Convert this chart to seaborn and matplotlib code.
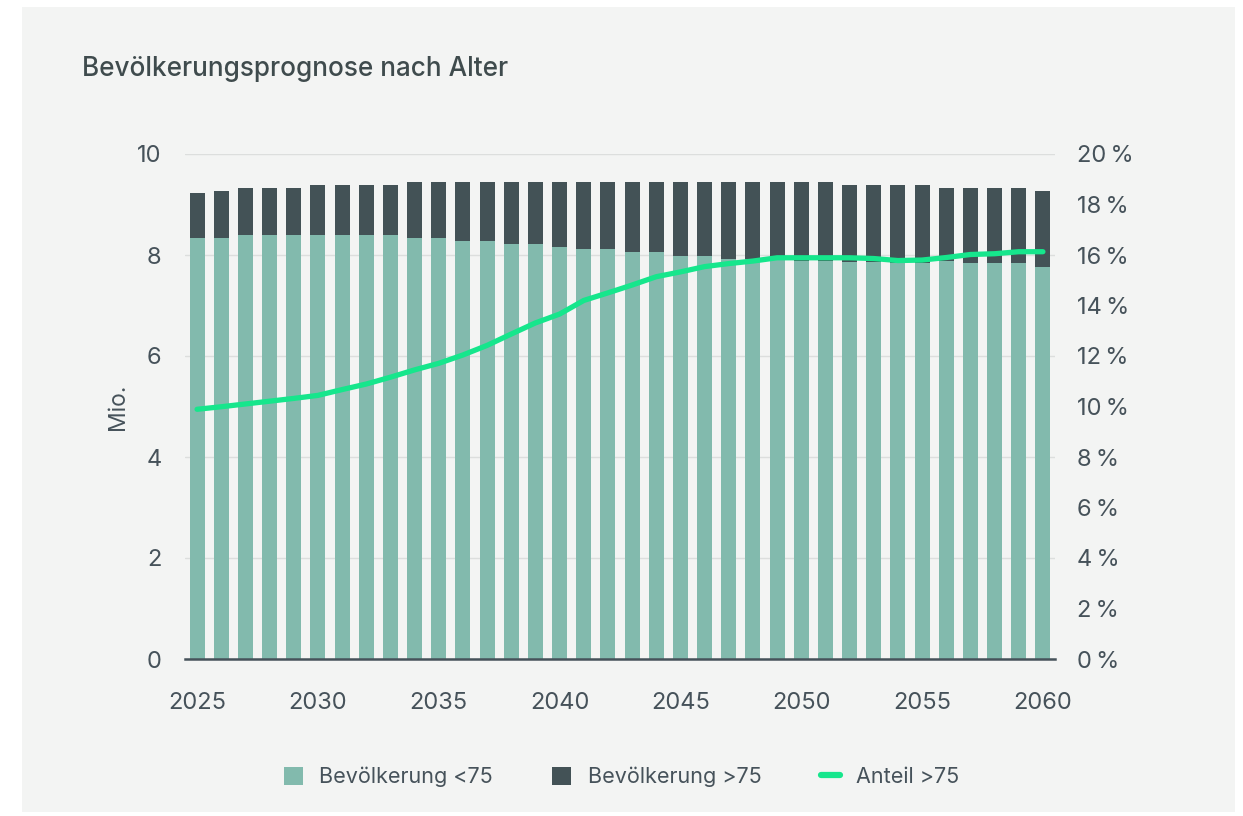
import numpy as np
import matplotlib
matplotlib.use('Agg')
import matplotlib.pyplot as plt
import seaborn as sns
from matplotlib.patches import Rectangle
from matplotlib.lines import Line2D
from matplotlib.patches import Patch

sns.set_theme(style='white')
plt.rcParams['font.family'] = ['Inter', 'DejaVu Sans']

# Daten
jahre = np.arange(2025, 2061)
bev_unter75 = [8.33, 8.33, 8.39, 8.39, 8.39, 8.39, 8.39, 8.39, 8.39, 8.33,
               8.33, 8.28, 8.28, 8.22, 8.22, 8.16, 8.11, 8.11, 8.05, 8.05,
               7.99, 7.99, 7.93, 7.92, 7.90, 7.89, 7.88, 7.87, 7.87, 7.84,
               7.84, 7.88, 7.84, 7.84, 7.84, 7.77]
bev_ueber75 = [0.89, 0.94, 0.94, 0.94, 0.94, 0.99, 0.99, 0.99, 0.99, 1.11,
               1.11, 1.16, 1.16, 1.22, 1.22, 1.28, 1.33, 1.33, 1.39, 1.39,
               1.45, 1.45, 1.51, 1.52, 1.54, 1.55, 1.56, 1.51, 1.51, 1.54,
               1.54, 1.45, 1.49, 1.49, 1.49, 1.50]
anteil_ueber75 = [9.89, 9.99, 10.10, 10.21, 10.32, 10.44, 10.67, 10.89, 11.16, 11.45,
                  11.71, 12.04, 12.42, 12.87, 13.31, 13.66, 14.20, 14.50, 14.81, 15.14,
                  15.33, 15.54, 15.66, 15.76, 15.89, 15.89, 15.89, 15.89, 15.86, 15.78,
                  15.80, 15.90, 16.02, 16.05, 16.13, 16.13]
x_ticks = [2025, 2030, 2035, 2040, 2045, 2050, 2055, 2060]

gesamt = np.array(bev_unter75) + np.array(bev_ueber75)

c_hell = '#82baad'
c_dunkel = '#435256'
c_linie = '#16e68c'
c_text = '#46525a'
c_bg = '#f3f4f3'

fig = plt.figure(figsize=(12.43, 8.16), dpi=100, facecolor='white')
fig.patches.append(Rectangle((22 / 1243, 4 / 816), 1213 / 1243, 805 / 816,
                             transform=fig.transFigure, facecolor=c_bg,
                             edgecolor='none', zorder=-10))
ax = fig.add_axes([185 / 1243, 1 - 659 / 816, 870 / 1243, 505 / 816])
ax.set_facecolor('none')

sns.barplot(x=jahre, y=gesamt, color=c_dunkel, native_scale=True, width=0.62,
            saturation=1, linewidth=0, errorbar=None, ax=ax)
sns.barplot(x=jahre, y=bev_unter75, color=c_hell, native_scale=True, width=0.62,
            saturation=1, linewidth=0, errorbar=None, ax=ax)

ax.set_xlim(2024.5, 2060.5)
ax.set_ylim(0, 10)
ax.set_yticks([0, 2, 4, 6, 8, 10])
ax.set_xticks(x_ticks)
ax.set_xticklabels([str(j) for j in x_ticks])
ax.grid(axis='y', color='#dcdedd', linewidth=1)
ax.set_axisbelow(True)
for s in ['top', 'right', 'left']:
    ax.spines[s].set_visible(False)
ax.spines['bottom'].set_color(c_text)
ax.spines['bottom'].set_linewidth(1.8)
ax.tick_params(axis='both', length=0, labelsize=17, labelcolor=c_text)
ax.tick_params(axis='y', pad=17)
ax.tick_params(axis='x', pad=24)
ax.set_xlabel('')
ax.set_ylabel('Mio.', fontsize=16.5, color=c_text, labelpad=6)

ax2 = ax.twinx()
sns.lineplot(x=jahre, y=anteil_ueber75, color=c_linie, linewidth=3.8, ax=ax2,
             solid_capstyle='round')
ax2.set_ylim(0, 20)
ax2.set_yticks(range(0, 21, 2))
ax2.set_yticklabels([f'{v}\u2009%' for v in range(0, 21, 2)])
ax2.tick_params(axis='y', length=0, labelsize=17, labelcolor=c_text, pad=16)
for s in ax2.spines.values():
    s.set_visible(False)
ax2.set_ylabel('')

fig.text(82 / 1243, 1 - 69 / 816, 'Bevölkerungsprognose nach Alter', fontsize=18.8,
         fontweight='medium', color='#3f4b4d', va='center', ha='left')

handles = [Patch(facecolor=c_hell, edgecolor='none'),
           Patch(facecolor=c_dunkel, edgecolor='none'),
           Line2D([0], [0], color=c_linie, linewidth=4.5)]
labels = ['Bevölkerung <75', 'Bevölkerung >75', 'Anteil >75']
fig.legend(handles, labels, loc='center', bbox_to_anchor=(0.5, 1 - 777 / 816),
           ncol=3, frameon=False, fontsize=15.5, labelcolor=c_text,
           handlelength=0.9, handleheight=0.9, handletextpad=0.75,
           columnspacing=2.75)

fig.savefig('out.png', dpi=100, facecolor='white')
